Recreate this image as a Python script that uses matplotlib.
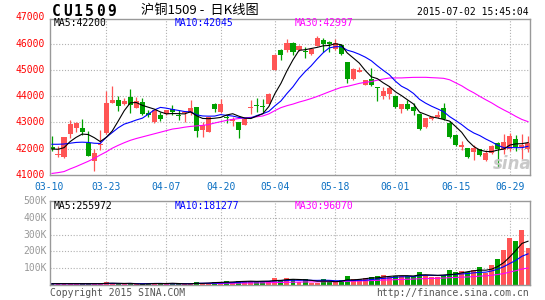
import matplotlib
matplotlib.use("Agg")
import matplotlib.pyplot as plt
from matplotlib.patches import Rectangle
from matplotlib.transforms import blended_transform_factory
import numpy as np
import pandas as pd

# ---------------- data ----------------
dates = ["03-10","03-11","03-12","03-13","03-16","03-17","03-18","03-19","03-20","03-23",
         "03-24","03-25","03-26","03-27","03-30","03-31","04-01","04-02","04-03","04-07",
         "04-08","04-09","04-10","04-13","04-14","04-15","04-16","04-17","04-20","04-21",
         "04-22","04-23","04-24","04-27","04-28","04-29","04-30","05-04","05-05","05-06",
         "05-07","05-08","05-11","05-12","05-13","05-14","05-15","05-18","05-19","05-20",
         "05-21","05-22","05-25","05-26","05-27","05-28","05-29","06-01","06-02","06-03",
         "06-04","06-05","06-08","06-09","06-10","06-11","06-12","06-15","06-16","06-17",
         "06-18","06-19","06-23","06-24","06-25","06-26","06-29","06-30","07-01","07-02"]

opens = [42050,41780,41670,42560,42790,42790,42210,41520,42130,42600,
         43760,43850,43710,43960,43570,43790,43350,43000,43290,43320,
         43520,43290,43350,43350,43600,42700,42640,43690,43410,43225,
         43075,43000,42910,43560,43650,43620,43690,44980,45760,45760,
         46020,45750,45730,45600,45910,46150,46060,45790,45940,45310,
         44660,44940,44440,44650,44330,44025,44100,44000,43500,43710,
         43580,43310,42825,43125,43225,43560,42975,42540,42075,42040,
         41890,41975,41560,41850,42225,41940,42000,42360,42080,41980]
highs = [42470,42090,42450,43090,43000,43130,42680,41990,42700,44180,
         44400,43990,43920,44280,43960,43920,43480,43480,43380,43480,
         43680,43475,43440,43850,43600,43000,43225,43760,43875,43290,
         43225,43000,43160,43850,43940,43910,44140,45600,45810,46190,
         46060,45940,45875,45840,46310,46225,46090,46160,45975,45310,
         45060,45125,44625,45060,44340,44340,44375,44060,43710,43840,
         43750,43350,43160,43250,43440,43725,43040,42540,42290,42040,
         42160,41975,41940,42160,42260,42560,42610,42520,42570,42500]
lows = [41920,41670,41640,42400,42630,42510,41730,41160,41940,42580,
        43740,43420,43680,43350,43550,43290,43190,42980,43040,43290,
        43280,43100,43010,43290,42440,42440,42640,43410,43350,42975,
        42850,42410,42890,43310,43410,43390,43690,44980,45390,45690,
        45560,45710,45460,45560,45910,45690,45690,45750,45560,44500,
        44625,44910,44410,44375,43810,43900,43900,43560,43375,43460,
        43290,42725,42800,43100,43160,43100,42410,42100,41940,41660,
        41560,41720,41540,41790,41300,41790,41900,41920,41600,41880]
closes = [42000,41810,42430,42940,42980,42630,41730,41840,42190,43760,
          43860,43630,43820,43670,43820,43320,43270,43460,43130,43460,
          43390,43240,43410,43540,42690,42890,43190,43500,43690,43160,
          43125,42725,43140,43600,43620,43590,44100,45580,45560,46010,
          45680,45900,45700,45790,46225,45975,45975,46025,45600,44660,
          45025,45000,44600,44410,44310,44210,44310,43600,43690,43500,
          43420,42760,43160,43225,43290,43140,42440,42125,42125,41700,
          42040,41760,41850,42100,42000,42250,42500,42080,42140,42200]
volumes = [8,8,8,8,8,8,8,8,8,18, 12,4,4,12,4,4,12,12,12,4,
           12,4,4,12,18,12,12,18,18,24, 18,24,24,24,18,24,24,42,30,40,
           34,18,34,14,14,34,18,18,27,56, 33,33,39,50,56,62,48,56,56,56,
           52,80,60,48,48,62,92,75,86,80, 92,110,72,120,157,210,282,262,327,222]  # thousands

# moving-average values before a full window exists
ma5_head = [41990, 41980, 42040, 42270]
ma10_head = [42170, 42170, 42180, 42210, 42240, 42250, 42240, 42210, 42200]
ma30_head = [41060, 41090, 41130, 41230, 41320, 41420, 41520, 41630, 41760, 41880,
             42020, 42130, 42230, 42320, 42390, 42450, 42510, 42570, 42630, 42690,
             42750, 42780, 42820, 42850, 42870, 42890, 42920, 42980, 43030]
vma5_head = [8, 8, 8, 8]
vma10_head = [8, 8, 8, 8, 8, 8, 8, 8, 8]
vma30_head = [7, 7, 7, 7, 7, 7, 7, 7, 7, 8, 8, 8, 8, 8, 8, 8, 8, 8, 8, 8,
              8, 8, 8, 8, 9, 9, 9, 9, 9]

tick_labels = ["03-10", "03-23", "04-07", "04-20", "05-04", "05-18", "06-01", "06-15", "06-29"]
price_ticks = [41000, 42000, 43000, 44000, 45000, 46000, 47000]
vol_ticks = [100, 200, 300, 400, 500]
vol_tick_labels = ["100K", "200K", "300K", "400K", "500K"]

title_code = "CU1509"
title_cn = "沪铜1509 -  日K线图"
timestamp = "2015-07-02 15:45:04"
ma_legend = ["MA5:42200", "MA10:42045", "MA30:42997"]
vol_legend = ["MA5:255972", "MA10:181277", "MA30:96070"]

# ---------------- helpers ----------------
def rolling_with_head(vals, n, head):
    s = pd.Series(vals, dtype=float).rolling(n).mean().to_numpy()
    s[:len(head)] = head
    return s

x = np.arange(len(dates))
o = np.array(opens, float); h = np.array(highs, float)
l = np.array(lows, float); c = np.array(closes, float)
v = np.array(volumes, float) * 1000

ma5 = rolling_with_head(closes, 5, ma5_head)
ma10 = rolling_with_head(closes, 10, ma10_head)
ma30 = rolling_with_head(closes, 30, ma30_head)
vma5 = rolling_with_head(volumes, 5, vma5_head) * 1000
vma10 = rolling_with_head(volumes, 10, vma10_head) * 1000
vma30 = rolling_with_head(volumes, 30, vma30_head) * 1000

RED = "#ff5555"
GREEN = "#00a000"
colors = [RED if cc >= oo else GREEN for oo, cc in zip(opens, closes)]

W, H = 545, 300
fig = plt.figure(figsize=(W / 100, H / 100), dpi=100)
fig.patch.set_facecolor("white")
def fx(px): return px / W
def fy(py): return 1 - py / H

LEFT, RIGHT = 49.5, 529.5
ax = fig.add_axes([fx(LEFT), fy(175), (RIGHT - LEFT) / W, (175 - 19) / H])
axv = fig.add_axes([fx(LEFT), fy(285), (RIGHT - LEFT) / W, (285 - 201) / H])

XL = (-0.41, 79.25)
MONO = "DejaVu Sans Mono"
GRID = dict(color="#b0b0b0", lw=0.8, linestyle=(0, (1, 1.6)), zorder=1)

tick_pos = [dates.index(t) for t in tick_labels]
tick_pos = [XL[0] if p == 0 else p for p in tick_pos]

for a in (ax, axv):
    a.set_xlim(*XL)
    a.set_xticks([]); a.set_yticks([])
    for s in a.spines.values():
        s.set_color("#999999"); s.set_linewidth(1.0)
    for p in tick_pos[1:]:
        a.axvline(p, **GRID)

ax.set_ylim(41000, 46940)
axv.set_ylim(0, 500000)
for p in price_ticks[1:-1]:
    ax.axhline(p, **GRID)
for p in vol_ticks[:-1]:
    axv.axhline(p * 1000, **GRID)

# candles
for i in range(len(x)):
    col = colors[i]
    ax.vlines(x[i], l[i], h[i], colors=col, lw=0.9, zorder=2)
    bot = min(o[i], c[i]); ht = max(abs(c[i] - o[i]), 35)
    ax.add_patch(Rectangle((x[i] - 0.42, bot), 0.84, ht, facecolor=col, edgecolor="none", zorder=2))

ax.plot(x, ma30, color="#ff00ff", lw=0.8, zorder=3)
ax.plot(x, ma10, color="#0000ff", lw=0.8, zorder=3)
ax.plot(x, ma5, color="black", lw=0.8, zorder=3)

# volume
axv.bar(x, v, width=0.82, color=colors, zorder=2, linewidth=0)
axv.plot(x, vma30, color="#ff00ff", lw=0.8, zorder=3)
axv.plot(x, vma10, color="#0000ff", lw=0.8, zorder=3)
axv.plot(x, vma5, color="black", lw=0.8, zorder=3)

# y labels
tr_main = blended_transform_factory(fig.transFigure, ax.transData)
for p in price_ticks:
    ax.text(fx(45), p, str(p), transform=tr_main, ha="right", va="center",
            color="#ff0000", fontsize=7, family=MONO, clip_on=False)
tr_vol = blended_transform_factory(fig.transFigure, axv.transData)
for p, lab in zip(vol_ticks, vol_tick_labels):
    axv.text(fx(47), p * 1000, lab, transform=tr_vol, ha="right", va="center",
             color="#999999", fontsize=7, family=MONO, clip_on=False)

# x labels
tr_x = blended_transform_factory(ax.transData, fig.transFigure)
for p, lab in zip(tick_pos, tick_labels):
    ax.text(p, fy(187.5), lab, transform=tr_x, ha="center", va="center",
            color="#0a6fc2", fontsize=7, family=MONO, clip_on=False)

# legends
leg_x = [54, 175, 295]
leg_c = ["black", "#0000ff", "#ff00ff"]
for xx, t, cc in zip(leg_x, ma_legend, leg_c):
    fig.text(fx(xx), fy(23.5), t, ha="left", va="center", color=cc, fontsize=7, family=MONO)
for xx, t, cc in zip(leg_x, vol_legend, leg_c):
    fig.text(fx(xx), fy(206), t, ha="left", va="center", color=cc, fontsize=7, family=MONO)

# title
for k, ch in enumerate(title_code):
    fig.text(fx(56.0 + 11.2 * k), fy(11.0), ch, ha="center", va="center",
             fontsize=10.5, fontweight="bold", family=MONO, color="black")
fig.text(fx(141), fy(10.5), title_cn, ha="left", va="center", fontsize=9.5,
         family=["Noto Sans CJK SC", "DejaVu Sans"], color="black")
fig.text(fx(529), fy(12), timestamp, ha="right", va="center", fontsize=7,
         family=MONO, color="black")

# footer
fig.text(fx(50), fy(292.5), "Copyright 2015 SINA.COM", ha="left", va="center",
         fontsize=7, family=MONO, color="#555555")
fig.text(fx(529), fy(292.5), "http://finance.sina.com.cn", ha="right", va="center",
         fontsize=7, family=MONO, color="#555555")

# watermark
fig.text(fx(512), fy(164), "sina", ha="center", va="center", fontsize=12,
         fontweight="bold", style="italic", color="#c4c4c4", alpha=0.9)

fig.savefig("out.png", dpi=100)
